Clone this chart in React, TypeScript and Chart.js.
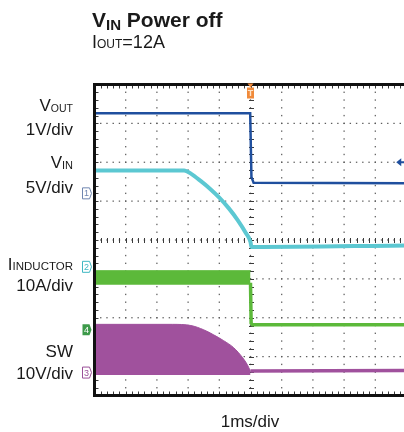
import React, { useEffect, useRef } from "react";
import { Chart, registerables } from "chart.js";

Chart.register(...registerables);

// Scope screen in divisions: 10 horizontal (1ms/div), 8 vertical
const X_DIVS = 10;
const Y_DIVS = 8;
const MINOR = 5;

// VOUT (1V/div)
const voutT = [0, 4.99, 5.03, 5.1, 10];
const voutV = [7.26, 7.26, 5.62, 5.47, 5.46];

// VIN (5V/div)
const vinT = [0, 2.87, 3.1, 3.4, 3.7, 4.0, 4.3, 4.6, 4.85, 5.0, 5.03, 10];
const vinV = [5.79, 5.79, 5.7, 5.52, 5.32, 5.09, 4.82, 4.5, 4.18, 3.95, 3.82, 3.86];

// I_INDUCTOR (10A/div): switching band before power-off, then flat
const ilBandT = [0, 5.0];
const ilBandHigh = [3.21, 3.21];
const ilBandLow = 2.85;
const ilPostT = [5.0, 5.02, 5.06, 10];
const ilPostV = [2.9, 1.86, 1.82, 1.82];

// SW (10V/div): switching envelope top, bottom, then flat
const swTopT = [0, 2.5, 3.09, 3.5, 3.82, 4.14, 4.46, 4.75, 4.9, 5.0];
const swTopV = [1.83, 1.83, 1.8, 1.69, 1.56, 1.41, 1.23, 0.97, 0.79, 0.62];
const swBottom = 0.53;
const swPostT = [5.0, 10];
const swPostV = [0.63, 0.64];

// Channel ground markers on the left edge
const chMarkLabels = ["1", "2", "4", "3"];
const chMarkLevels = [5.2, 3.31, 1.69, 0.59];
const chMarkColors = ["#6f86b0", "#3fb7c2", "#3d9a4a", "#9a4f98"];
const chMarkFilled = [false, false, true, false];

const triggerTime = 5;
const voutRefTime = 9.8;
const voutRefLevel = 6.0;

const C_VOUT = "#1f4f9e";
const C_VIN = "#5cc8d2";
const C_IL = "#5cb93a";
const C_SW = "#a0519d";
const C_TRIG = "#f08a3a";

const pts = (xs: number[], ys: number[]) => xs.map((x, i) => ({ x, y: ys[i] }));

const scopePlugin = {
  id: "scope",
  beforeDatasetsDraw(chart: any) {
    const { ctx, chartArea: a, scales } = chart;
    const x = scales.x;
    const y = scales.y;
    ctx.save();
    ctx.fillStyle = "#5a5a5a";
    // dotted vertical major lines
    for (let i = 1; i < X_DIVS; i++) {
      const px = x.getPixelForValue(i);
      for (let k = 0; k <= Y_DIVS * MINOR; k++) {
        const py = y.getPixelForValue(k / MINOR);
        ctx.fillRect(px - 0.6, py - 0.7, 1.2, 1.4);
      }
    }
    // dotted horizontal major lines
    for (let j = 1; j < Y_DIVS; j++) {
      const py = y.getPixelForValue(j);
      for (let k = 0; k <= X_DIVS * MINOR; k++) {
        const px = x.getPixelForValue(k / MINOR);
        ctx.fillRect(px - 0.7, py - 0.6, 1.4, 1.2);
      }
    }
    // center cross ticks
    ctx.strokeStyle = "#3a3a3a";
    ctx.lineWidth = 1;
    const cx = Math.round(x.getPixelForValue(X_DIVS / 2)) + 0.5;
    const cy = Math.round(y.getPixelForValue(Y_DIVS / 2)) + 0.5;
    ctx.beginPath();
    for (let k = 0; k <= Y_DIVS * MINOR; k++) {
      const py = Math.round(y.getPixelForValue(k / MINOR)) + 0.5;
      ctx.moveTo(cx - 2.5, py);
      ctx.lineTo(cx + 2.5, py);
    }
    for (let k = 0; k <= X_DIVS * MINOR; k++) {
      const px = Math.round(x.getPixelForValue(k / MINOR)) + 0.5;
      ctx.moveTo(px, cy - 2.5);
      ctx.lineTo(px, cy + 2.5);
    }
    // border ticks
    for (let k = 0; k <= Y_DIVS * MINOR; k++) {
      const py = Math.round(y.getPixelForValue(k / MINOR)) + 0.5;
      ctx.moveTo(a.left, py);
      ctx.lineTo(a.left + 4, py);
    }
    for (let k = 0; k <= X_DIVS * MINOR; k++) {
      const px = Math.round(x.getPixelForValue(k / MINOR)) + 0.5;
      ctx.moveTo(px, a.top);
      ctx.lineTo(px, a.top + 4);
      ctx.moveTo(px, a.bottom);
      ctx.lineTo(px, a.bottom - 4);
    }
    ctx.stroke();
    ctx.restore();
  },
  afterDatasetsDraw(chart: any) {
    const { ctx, chartArea: a, scales } = chart;
    const x = scales.x;
    const y = scales.y;
    ctx.save();
    // frame
    ctx.strokeStyle = "#111";
    ctx.lineWidth = 3;
    ctx.strokeRect(a.left, a.top, a.right - a.left, a.bottom - a.top);

    // channel markers
    ctx.font = "9px 'Liberation Sans', Arial, sans-serif";
    ctx.textAlign = "center";
    ctx.textBaseline = "middle";
    chMarkLabels.forEach((lab, i) => {
      const py = y.getPixelForValue(chMarkLevels[i]);
      const r = a.left - 3;
      const l = r - 9;
      ctx.beginPath();
      ctx.moveTo(l, py - 5.5);
      ctx.lineTo(r - 2, py - 5.5);
      ctx.lineTo(r, py);
      ctx.lineTo(r - 2, py + 5.5);
      ctx.lineTo(l, py + 5.5);
      ctx.closePath();
      if (chMarkFilled[i]) {
        ctx.fillStyle = chMarkColors[i];
        ctx.fill();
        ctx.fillStyle = "#fff";
      } else {
        ctx.fillStyle = "#fff";
        ctx.fill();
        ctx.strokeStyle = chMarkColors[i];
        ctx.lineWidth = 1;
        ctx.stroke();
        ctx.fillStyle = chMarkColors[i];
      }
      ctx.fillText(lab, l + 4, py + 0.5);
    });

    // trigger marker
    const tx = x.getPixelForValue(triggerTime);
    ctx.fillStyle = C_TRIG;
    ctx.fillRect(tx - 3.5, a.top + 3, 7, 11);
    ctx.beginPath();
    ctx.moveTo(tx - 3, a.top - 1);
    ctx.lineTo(tx + 3, a.top - 1);
    ctx.lineTo(tx, a.top + 3);
    ctx.closePath();
    ctx.fill();
    ctx.fillStyle = "#fde3c8";
    ctx.font = "bold 9px 'Liberation Sans', Arial, sans-serif";
    ctx.fillText("T", tx, a.top + 9);

    // VOUT reference arrow on right
    const rx = x.getPixelForValue(voutRefTime);
    const ry = y.getPixelForValue(voutRefLevel);
    ctx.fillStyle = C_VOUT;
    ctx.beginPath();
    ctx.moveTo(rx - 4, ry);
    ctx.lineTo(rx + 1, ry - 4);
    ctx.lineTo(rx + 1, ry + 4);
    ctx.closePath();
    ctx.fill();
    ctx.fillRect(rx, ry - 1, 6, 2);
    ctx.restore();
  },
};

function ScopeChart() {
  const ref = useRef<HTMLCanvasElement | null>(null);
  useEffect(() => {
    if (!ref.current) return;
    const chart = new Chart(ref.current, {
      type: "line",
      data: {
        datasets: [
          {
            label: "VOUT",
            data: pts(voutT, voutV),
            borderColor: C_VOUT,
            borderWidth: 2.5,
            pointRadius: 0,
            fill: false,
          },
          {
            label: "VIN",
            data: pts(vinT, vinV),
            borderColor: C_VIN,
            borderWidth: 4,
            pointRadius: 0,
            cubicInterpolationMode: "monotone",
            fill: false,
          },
          {
            label: "IL band",
            data: pts(ilBandT, ilBandHigh),
            borderColor: C_IL,
            backgroundColor: C_IL,
            borderWidth: 1,
            pointRadius: 0,
            fill: { value: ilBandLow },
          },
          {
            label: "IL",
            data: pts(ilPostT, ilPostV),
            borderColor: C_IL,
            borderWidth: 3.5,
            pointRadius: 0,
            fill: false,
          },
          {
            label: "SW band",
            data: pts(swTopT, swTopV),
            borderColor: C_SW,
            backgroundColor: C_SW,
            borderWidth: 1,
            pointRadius: 0,
            cubicInterpolationMode: "monotone",
            fill: { value: swBottom },
          },
          {
            label: "SW",
            data: pts(swPostT, swPostV),
            borderColor: C_SW,
            borderWidth: 3.5,
            pointRadius: 0,
            fill: false,
          },
        ],
      },
      options: {
        animation: false,
        responsive: false,
        devicePixelRatio: 1,
        layout: { padding: { left: 94.5, top: 84.5, right: 13.5, bottom: 36.5 } },
        plugins: { legend: { display: false }, tooltip: { enabled: false }, title: { display: false } },
        scales: {
          x: { type: "linear", min: 0, max: X_DIVS, display: false },
          y: { type: "linear", min: 0, max: Y_DIVS, display: false },
        },
      },
      plugins: [scopePlugin],
    } as any);
    return () => chart.destroy();
  }, []);
  return <canvas ref={ref} width={420} height={432} style={{ position: "absolute", left: 0, top: 0, display: "block" }} />;
}

const FONT = "'Liberation Sans', Arial, Helvetica, sans-serif";

function Txt(props: {
  baseline: number;
  size: number;
  right?: number;
  left?: number;
  center?: number;
  bold?: boolean;
  children: React.ReactNode;
}) {
  const { baseline, size, right, left, center, bold, children } = props;
  const style: React.CSSProperties = {
    position: "absolute",
    top: baseline - 0.8465 * size,
    fontSize: size,
    lineHeight: `${size}px`,
    fontWeight: bold ? 700 : 400,
    whiteSpace: "nowrap",
    color: "#1a1a1a",
  };
  if (right !== undefined) {
    style.right = 404 - right;
    style.textAlign = "right";
  } else if (center !== undefined) {
    style.left = center - 100;
    style.width = 200;
    style.textAlign = "center";
  } else {
    style.left = left;
  }
  return <div style={style}>{children}</div>;
}

function Sub(props: { size: number; dy: number; children: React.ReactNode }) {
  return (
    <span style={{ fontSize: props.size, lineHeight: `${props.size}px`, position: "relative", top: props.dy }}>
      {props.children}
    </span>
  );
}

export default function App() {
  return (
    <div
      style={{
        position: "fixed",
        left: 0,
        top: 0,
        width: 404,
        height: 432,
        overflow: "hidden",
        background: "#fff",
        fontFamily: FONT,
      }}
    >
      <ScopeChart />
      <Txt left={92} baseline={27} size={21} bold>
        V<Sub size={15} dy={3}>IN</Sub> Power off
      </Txt>
      <Txt left={92} baseline={48} size={18}>
        I<Sub size={12} dy={0}>OUT</Sub>=12A
      </Txt>
      <Txt right={73} baseline={111} size={17}>
        V<Sub size={10.5} dy={1}>OUT</Sub>
      </Txt>
      <Txt right={73} baseline={135} size={17}>1V/div</Txt>
      <Txt right={73} baseline={168} size={17}>
        V<Sub size={11} dy={1}>IN</Sub>
      </Txt>
      <Txt right={73} baseline={193} size={17}>5V/div</Txt>
      <Txt right={73} baseline={270} size={17}>
        I<Sub size={11.5} dy={0}>INDUCTOR</Sub>
      </Txt>
      <Txt right={73} baseline={291} size={17}>10A/div</Txt>
      <Txt right={73} baseline={357} size={17}>SW</Txt>
      <Txt right={73} baseline={379} size={17}>10V/div</Txt>
      <Txt center={250} baseline={427} size={17}>1ms/div</Txt>
    </div>
  );
}
